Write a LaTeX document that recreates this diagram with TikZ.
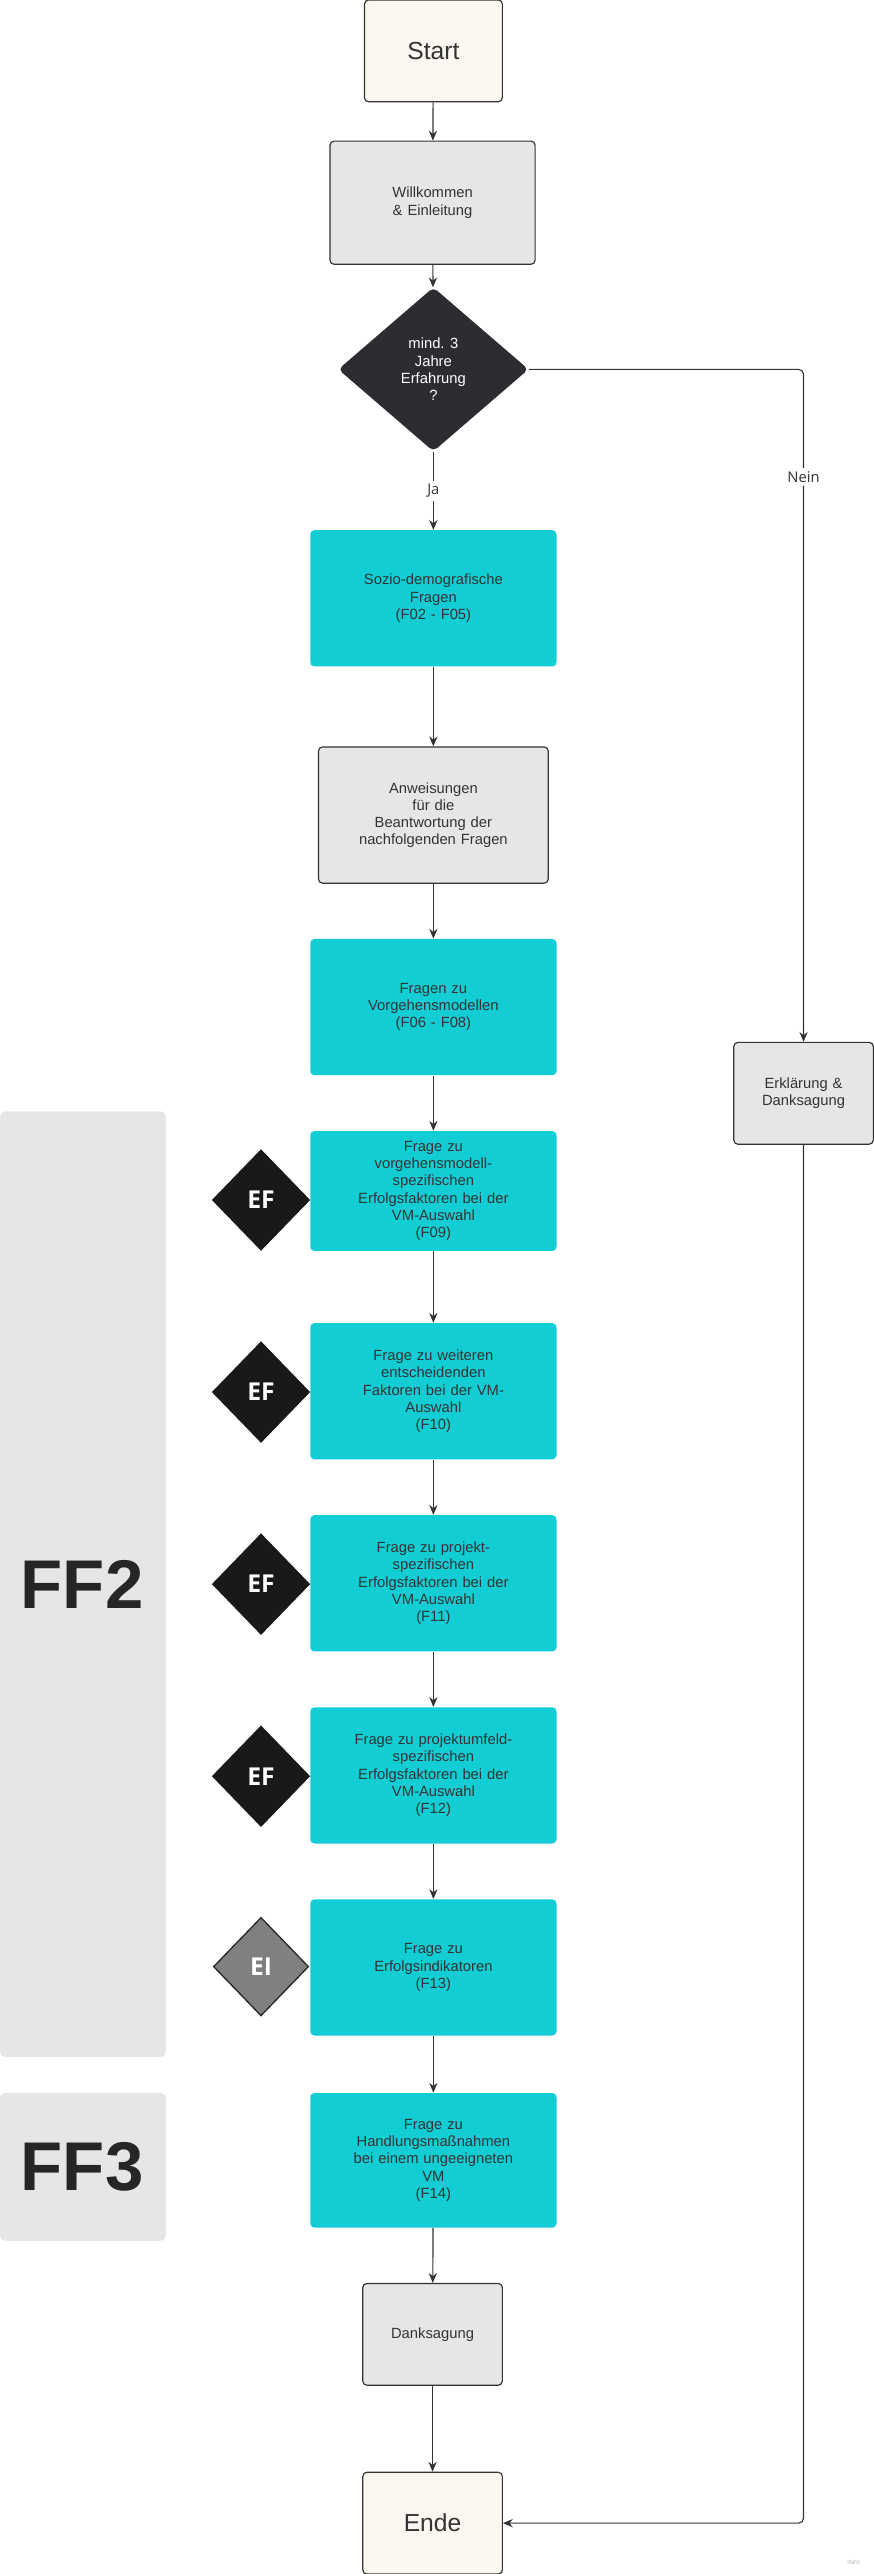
\documentclass[tikz,border=0pt]{standalone}
\usepackage{fontspec}
\setmainfont{Liberation Sans}
\newfontfamily\opensans{Open Sans}
\usetikzlibrary{shapes.geometric,arrows.meta}
\definecolor{teal}{HTML}{12CDD4}
\definecolor{lgray}{HTML}{E6E6E6}
\definecolor{cream}{HTML}{FAF6F0}
\definecolor{dark}{HTML}{2B2D31}
\definecolor{txt}{HTML}{333333}
\begin{document}
\begin{tikzpicture}[x=1pt,y=-1pt,
  box/.style={rectangle,rounded corners=2.5pt,align=center,text=txt,font=\fontsize{9}{10.5}\selectfont,inner sep=2pt,text width=#1},
  box/.default=135pt,
  qbox/.style={box,fill=teal,minimum width=150pt},
  gbox/.style={box=#1,fill=lgray,draw=txt,line width=0.7pt},
  efd/.style={diamond,fill=#1,minimum width=60pt,minimum height=62pt,inner sep=0pt,text=white,font=\opensans\bfseries\fontsize{15}{15}\selectfont},
  panel/.style={fill=lgray,rounded corners=3pt},
  arr/.style={-{Stealth[length=6pt,width=5pt]},draw=txt,line width=0.7pt},
  lab/.style={fill=white,font=\opensans\fontsize{9}{9}\selectfont,text=txt,inner sep=2pt}]
\useasboundingbox (0,0) rectangle (532,1568);
% panels
\fill[panel] (0,677) rectangle (101,1253);
\fill[panel] (0,1275) rectangle (101,1365);
\node[font=\bfseries\fontsize{42}{42}\selectfont,text=black!85] (ff2) at (50,965) {FF2};
\node[font=\bfseries\fontsize{42}{42}\selectfont,text=black!85] (ff3) at (50,1320) {FF3};
% nodes
\node[box=70pt,fill=cream,draw=txt,line width=0.7pt,minimum width=84pt,minimum height=62pt,font=\fontsize{15}{15}\selectfont] (start) at (264,31) {Start};
\node[gbox=110pt,minimum width=125pt,minimum height=75pt] (will) at (263.5,123.5) {Willkommen\\\& Einleitung};
\node[diamond,fill=dark,rounded corners=3pt,minimum width=116pt,minimum height=100pt,inner sep=0pt,text=white,align=center,font=\fontsize{9}{10.5}\selectfont] (dec) at (264,225) {mind. 3\\Jahre\\Erfahrung\\?};
\node[qbox,minimum height=83pt] (sozio) at (264,364.5) {Sozio-demografische\\Fragen\\(F02 - F05)};
\node[gbox=130pt,minimum width=140pt,minimum height=83pt] (anw) at (264,496.5) {Anweisungen\\für die\\Beantwortung der\\nachfolgenden Fragen};
\node[qbox,minimum height=83pt] (vm) at (264,613.5) {Fragen zu\\Vorgehensmodellen\\(F06 - F08)};
\node[gbox=80pt,minimum width=85pt,minimum height=62pt] (erk) at (489.5,666) {Erklärung \&\\Danksagung};
\node[qbox,minimum height=73pt] (f09) at (264,725.5) {Frage zu\\vorgehensmodell-\\spezifischen\\Erfolgsfaktoren bei der\\VM-Auswahl\\(F09)};
\node[qbox,minimum height=83pt] (f10) at (264,847.5) {Frage zu weiteren\\entscheidenden\\Faktoren bei der VM-\\Auswahl\\(F10)};
\node[qbox,minimum height=83pt] (f11) at (264,964.5) {Frage zu projekt-\\spezifischen\\Erfolgsfaktoren bei der\\VM-Auswahl\\(F11)};
\node[qbox,minimum height=83pt] (f12) at (264,1081.5) {Frage zu projektumfeld-\\spezifischen\\Erfolgsfaktoren bei der\\VM-Auswahl\\(F12)};
\node[qbox,minimum height=83pt] (f13) at (264,1198.5) {Frage zu\\Erfolgsindikatoren\\(F13)};
\node[qbox,minimum height=82pt] (f14) at (264,1316) {Frage zu\\Handlungsmaßnahmen\\bei einem ungeeigneten\\VM\\(F14)};
\node[gbox=80pt,minimum width=85pt,minimum height=62pt] (dank) at (263.5,1422) {Danksagung};
\node[box=70pt,fill=cream,draw=txt,line width=0.7pt,minimum width=85pt,minimum height=62pt,font=\fontsize{15}{15}\selectfont] (ende) at (263.5,1537) {Ende};
% EF diamonds
\node[efd=black!90] (e1) at (159,731) {EF};
\node[efd=black!90] (e2) at (159,848) {EF};
\node[efd=black!90] (e3) at (159,965) {EF};
\node[efd=black!90] (e4) at (159,1082) {EF};
\node[efd=black!50,draw=black!85,line width=0.8pt,minimum width=58pt,minimum height=60pt] (e5) at (159,1198) {EI};
% connectors
\draw[arr] (start) -- (will);
\draw[arr] (will) -- (dec);
\draw[arr] (dec) -- node[lab]{Ja} (sozio);
\draw[arr] (sozio) -- (anw);
\draw[arr] (anw) -- (vm);
\draw[arr] (vm) -- (f09);
\draw[arr] (f09) -- (f10);
\draw[arr] (f10) -- (f11);
\draw[arr] (f11) -- (f12);
\draw[arr] (f12) -- (f13);
\draw[arr] (f13) -- (f14);
\draw[arr] (f14) -- (dank);
\draw[arr] (dank) -- (ende);
\draw[arr,rounded corners=3pt] (dec.east) -- (erk.north |- dec.east) -- node[lab,pos=0.16]{Nein} (erk.north);
\draw[arr,rounded corners=3pt] (erk.south) |- (ende.east);
\node[font=\fontsize{4}{4}\selectfont,text=black!30] (miro) at (520,1561) {miro};
\end{tikzpicture}
\end{document}
